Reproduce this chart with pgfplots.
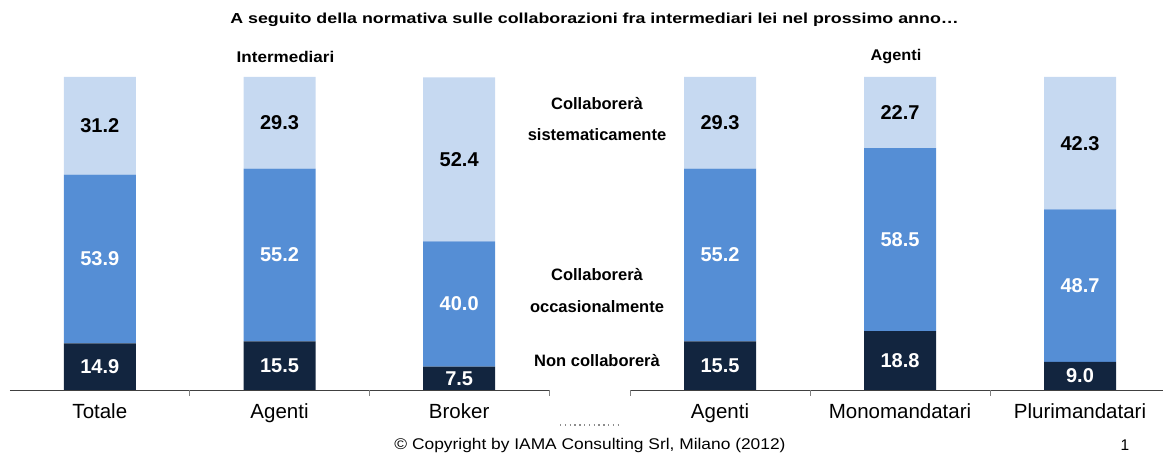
\documentclass[border=0pt]{standalone}
\usepackage{fontspec}
\setmainfont{Liberation Sans}
\usepackage{pgfplots}
\usepackage{pgfplotstable}
\pgfplotsset{compat=1.18}
\definecolor{cdark}{HTML}{12253F}
\definecolor{cmid}{HTML}{558ED5}
\definecolor{clight}{HTML}{C6D9F1}
\newcommand{\fs}[1]{\fontsize{#1}{#1}\selectfont}

\pgfplotstableread{
x dark mid light
0 14.9 53.9 31.2
1 15.5 55.2 29.3
2 7.5 40.0 52.4
}\leftdata
\pgfplotstableread{
x dark mid light
0 15.5 55.2 29.3
1 18.8 58.5 22.7
2 9.0 48.7 42.3
}\rightdata
% label positions (segment midpoints)
\pgfplotstableread{
x y lab
0 7.45 14.9
0 41.85 53.9
1 7.75 15.5
1 43.1 55.2
2 3.75 7.5
2 27.5 40.0
}\leftlabW
\pgfplotstableread{
x y lab
0 84.4 31.2
1 85.35 29.3
2 73.7 52.4
}\leftlabB
\pgfplotstableread{
x y lab
0 7.75 15.5
0 43.1 55.2
1 9.4 18.8
1 48.05 58.5
2 4.5 9.0
2 33.35 48.7
}\rightlabW
\pgfplotstableread{
x y lab
0 85.35 29.3
1 88.65 22.7
2 78.85 42.3
}\rightlabB

\pgfplotsset{
  base/.style={scale only axis, height=313pt, ymin=0, ymax=100, xmin=-0.5, anchor=south west},
  bars/.style={base, ybar stacked, bar width=72pt,
    axis x line*=bottom, axis y line=none,
    xtick={0,1,2}, major tick length=0pt, tick align=outside,
    xticklabel style={font=\fs{20.5}, yshift=-10pt},
    axis line style={draw=black!75, line width=0.8pt},
    extra x tick style={major tick length=6pt, tick style={black!50, line width=0.8pt}},
    extra x tick labels={}},
  labs/.style={base, hide axis},
  lab/.style={draw=none, mark=none, nodes near coords, point meta=explicit symbolic,
    every node near coord/.append style={anchor=center, font=\bfseries\fs{20}, text=#1}},
}

\begin{document}
\begin{tikzpicture}
\path[use as bounding box] (0,0) rectangle (1163pt,454pt);

% left group
\begin{axis}[bars, at={(10pt,64pt)}, width=539pt, xmax=2.5,
  xticklabels={Totale,Agenti,Broker}, extra x ticks={0.5,1.5,2.5}]
\addplot[fill=cdark, draw=none] table[x=x,y=dark] {\leftdata};
\addplot[fill=cmid, draw=none] table[x=x,y=mid] {\leftdata};
\addplot[fill=clight, draw=none] table[x=x,y=light] {\leftdata};
\end{axis}
\begin{axis}[labs, at={(10pt,64pt)}, width=539pt, xmax=2.5]
\addplot[lab=white] table[x=x,y=y,meta=lab] {\leftlabW};
\addplot[lab=black] table[x=x,y=y,meta=lab] {\leftlabB};
\end{axis}

% right group
\begin{axis}[bars, at={(630pt,64pt)}, width=533pt, xmax=2.4611,
  xticklabels={Agenti,Monomandatari,Plurimandatari}, extra x ticks={-0.5,0.5,1.5}]
\addplot[fill=cdark, draw=none] table[x=x,y=dark] {\rightdata};
\addplot[fill=cmid, draw=none] table[x=x,y=mid] {\rightdata};
\addplot[fill=clight, draw=none] table[x=x,y=light] {\rightdata};
\end{axis}
\begin{axis}[labs, at={(630pt,64pt)}, width=533pt, xmax=2.4611]
\addplot[lab=white] table[x=x,y=y,meta=lab] {\rightlabW};
\addplot[lab=black] table[x=x,y=y,meta=lab] {\rightlabB};
\end{axis}

% texts
\node[font=\bfseries\fs{14.5}] at (594.5pt,434pt) {\scalebox{1.23}[1]{A seguito della normativa sulle collaborazioni fra intermediari lei nel prossimo anno\ldots}};
\node[font=\bfseries\fs{15.5}] at (285.5pt,397pt) {\scalebox{1.1}[1]{Intermediari}};
\node[font=\bfseries\fs{15.5}] at (896pt,397pt) {\scalebox{1.05}[1]{Agenti}};

\node[font=\bfseries\fs{16.5}] at (597pt,350pt) {Collaborerà};
\node[font=\bfseries\fs{16.5}] at (597pt,319pt) {sistematicamente};
\node[font=\bfseries\fs{16.5}] at (597pt,179pt) {Collaborerà};
\node[font=\bfseries\fs{16.5}] at (597pt,147pt) {occasionalmente};
\node[font=\bfseries\fs{16.5}] at (597pt,93pt) {Non collaborerà};

\draw[black!45, line width=1.3pt, dash pattern=on 1.3pt off 3.5pt] (560pt,29pt) -- (622pt,29pt);

\node[font=\fs{15.5}] at (590pt,9pt) {\scalebox{1.12}[1]{© Copyright by IAMA Consulting Srl, Milano (2012)}};
\node[font=\fs{15.5}] at (1125pt,9pt) {1};
\end{tikzpicture}
\end{document}
